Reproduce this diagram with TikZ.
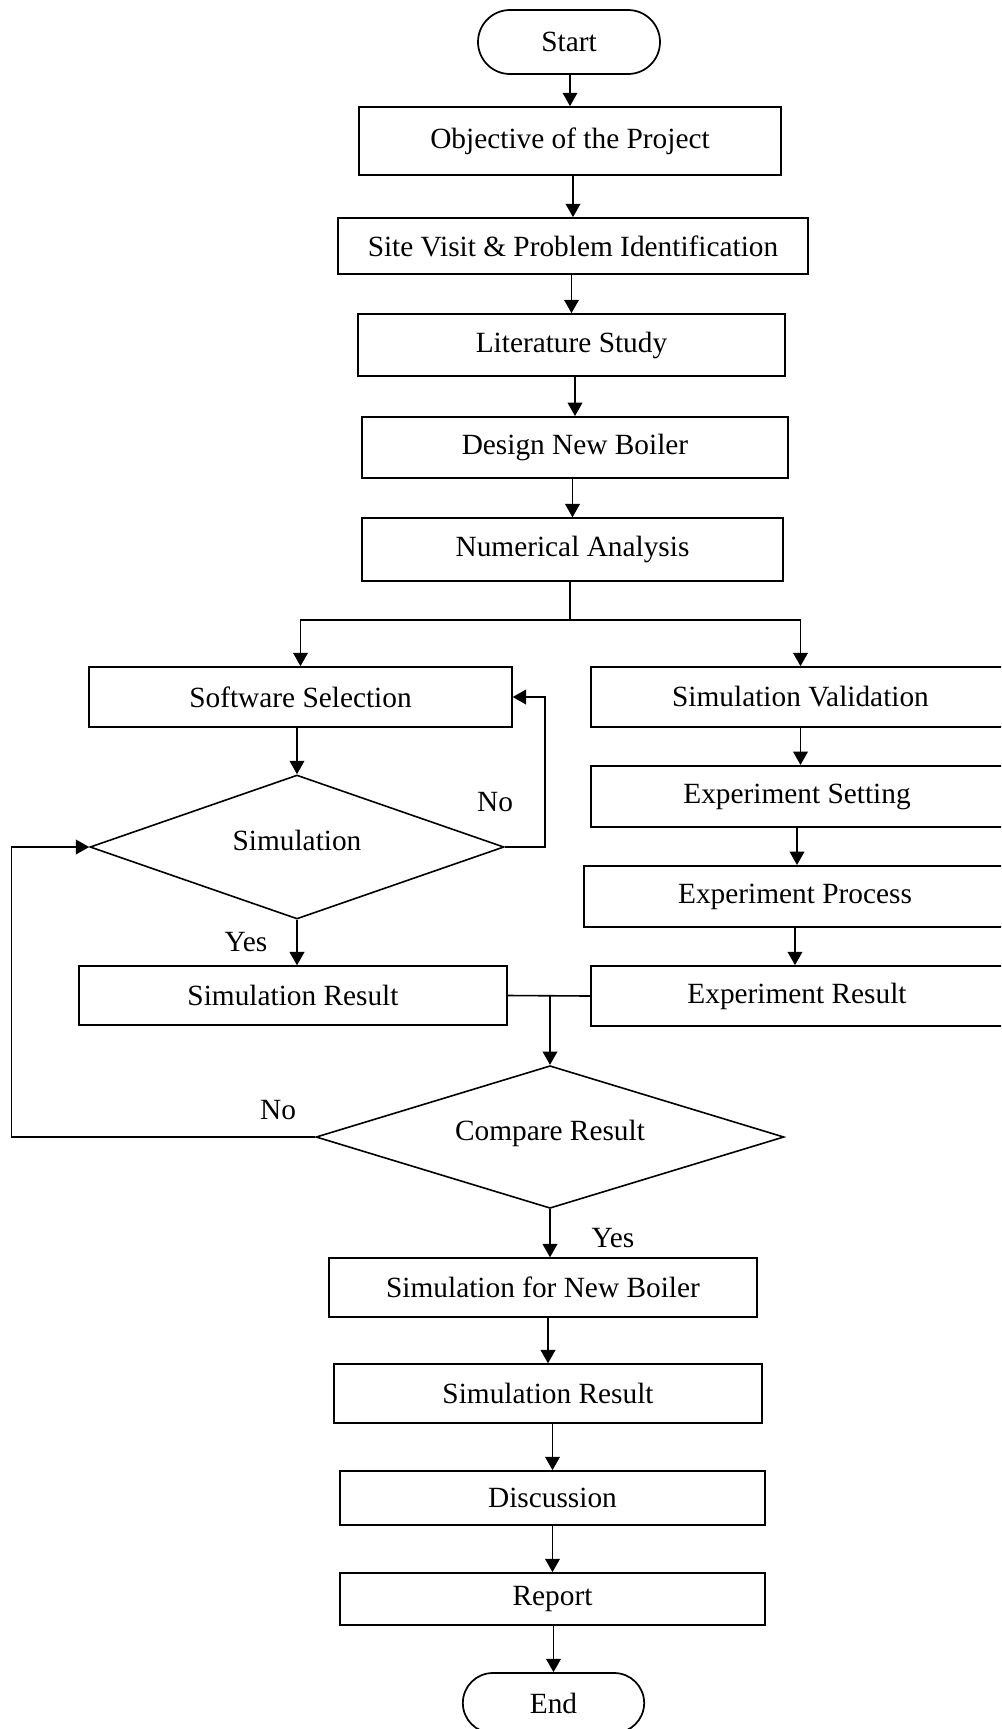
\documentclass[tikz,border=0pt]{standalone}
\usepackage{fontspec}
\setmainfont{Liberation Serif}
\usetikzlibrary{shapes.geometric,arrows.meta}

\tikzset{every picture/.style={line width=0.75pt}}
\tikzset{
  proc/.style={draw, line width=1.3pt, rectangle, inner sep=0.75pt, font=\fontsize{22}{26}\selectfont},
  term/.style={proc, rounded corners=#1},
  decis/.style={draw, line width=1.2pt, diamond, aspect=3, inner sep=0pt, text depth=10pt, font=\fontsize{22}{26}\selectfont},
  lbl/.style={inner sep=0.75pt, font=\fontsize{22}{26}\selectfont},
  flow/.style={line width=1.2pt, -{Triangle[length=10pt,width=11pt]}},
  joint/.style={line width=1.2pt}
}

\begin{document}
\begin{tikzpicture}[x=0.75pt,y=0.75pt,yscale=-1,xscale=1]
\useasboundingbox (0,0) rectangle (1001,1729);
\clip (0,0) rectangle (1001,1729);

%Shape: Terminal
\node [term=24pt, minimum width=136.5pt, minimum height=48pt] (start) at (569,42) {Start};
%Shape: Rectangle
\node [proc, minimum width=317pt, minimum height=51pt] (objct) at (570,141) {Objective of the Project};
\node [proc, minimum width=353pt, minimum height=42pt] (site) at (573,246) {Site Visit \& Problem Identification};
\node [proc, minimum width=320pt, minimum height=46.5pt] (litr) at (571.5,345) {Literature Study};
\node [proc, minimum width=319.5pt, minimum height=46pt] (dsgn) at (575,447.5) {Design New Boiler};
\node [proc, minimum width=316pt, minimum height=47pt] (numer) at (572.5,549.5) {Numerical Analysis};

%Shape: Rectangle, left branch
\node [proc, minimum width=317pt, minimum height=45pt] (softsel) at (300.5,697) {Software Selection};
%Shape: Diamond
\node [decis, minimum width=310.5pt, minimum height=108pt] (simdia) at (297,847) {Simulation};
\node [proc, minimum width=321pt, minimum height=44pt] (simres) at (293,995.5) {Simulation Result};

%Shape: Rectangle, right branch
\node [proc, minimum width=314pt, minimum height=45pt] (simval) at (800.5,697) {Simulation Validation};
\node [proc, minimum width=309pt, minimum height=46pt] (expset) at (797,796.5) {Experiment Setting};
\node [proc, minimum width=316.5pt, minimum height=46pt] (expproc) at (795,896.5) {Experiment Process};
\node [proc, minimum width=309pt, minimum height=45pt] (expres) at (797,996) {Experiment Result};

%Shape: Diamond
\node [decis, minimum width=351pt, minimum height=107pt] (cmpdia) at (550,1137) {Compare Result};

%Shape: Rectangle
\node [proc, minimum width=321pt, minimum height=44pt] (newboil) at (543,1287.5) {Simulation for New Boiler};
\node [proc, minimum width=321pt, minimum height=44pt] (simres2) at (548,1393.5) {Simulation Result};
\node [proc, minimum width=319pt, minimum height=40.5pt] (discuss) at (552.5,1498) {Discussion};
\node [proc, minimum width=319pt, minimum height=39pt] (report) at (552.5,1599) {Report};
%Shape: Terminal
\node [term=22.5pt, minimum width=136pt, minimum height=45pt] (fin) at (553.5,1703) {End};

% Text Node
\node [lbl] (nolbl1) at (495,802) {No};
% Text Node
\node [lbl] (yeslbl1) at (246,942) {Yes};
% Text Node
\node [lbl] (nolbl2) at (278,1110) {No};
% Text Node
\node [lbl] (yeslbl2) at (613,1238) {Yes};

%Straight Lines, main column
\draw [flow] (objct.north |- start.south) -- (objct.north);
\draw [flow] (site.north |- objct.south) -- (site.north);
\draw [flow] (litr.north |- site.south) -- (litr.north);
\draw [flow] (dsgn.north |- litr.south) -- (dsgn.north);
\draw [flow] (numer.north |- dsgn.south) -- (numer.north);

%Connector: split into two branches
\path (numer.south) ++(-2.5,38) coordinate (split);
\draw [joint] (split |- numer.south) -- (split);
\draw [flow] (split) -| (softsel.north);
\draw [flow] (split) -| (simval.north);

%Connector: left branch
\draw [flow] (simdia.north |- softsel.south) -- (simdia.north);
\draw [flow] (simdia.south) -- (simdia.south |- simres.north);
\coordinate (nback) at (545,847);
\draw [flow] (simdia.east) -- (nback) |- (softsel.east);

%Connector: right branch
\draw [flow] (simval.south) -- (simval.south |- expset.north);
\draw [flow] (expset.south) -- (expset.south |- expproc.north);
\draw [flow] (expproc.south) -- (expproc.south |- expres.north);

%Connector: merge
\draw [joint] (simres.east) -- (expres.west);
\coordinate (merge) at (cmpdia.north |- simres.east);
\draw [flow] (merge) -- (cmpdia.north);

%Connector: back to simulation
\coordinate (lback) at (11.5,1137);
\draw [flow] (cmpdia.west) -- (lback) |- (simdia.west);

%Straight Lines, lower column
\draw [flow] (cmpdia.south) -- (cmpdia.south |- newboil.north);
\draw [flow] (simres2.north |- newboil.south) -- (simres2.north);
\draw [flow] (discuss.north |- simres2.south) -- (discuss.north);
\draw [flow] (report.north |- discuss.south) -- (report.north);
\draw [flow] (fin.north |- report.south) -- (fin.north);
\end{tikzpicture}
\end{document}
